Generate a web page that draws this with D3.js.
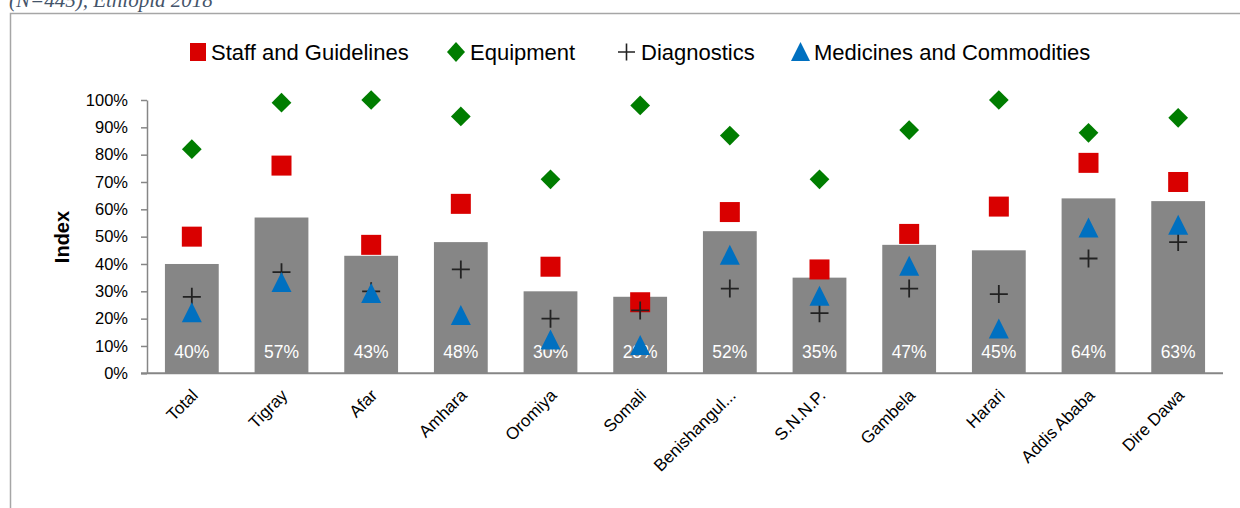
<!DOCTYPE html>
<html><head><meta charset="utf-8">
<script src="https://cdn.jsdelivr.net/npm/d3@7"></script>
<style>
html,body{margin:0;padding:0;background:#fff;}
svg{display:block;font-family:"Liberation Sans",Arial,sans-serif;}
</style></head>
<body><svg id="c" width="1240" height="508"></svg>
<script>
const categories = ["Total","Tigray","Afar","Amhara","Oromiya","Somali","Benishangul...","S.N.N.P.","Gambela","Harari","Addis Ababa","Dire Dawa"];
const overallIndex = [40,57,43,48,30,28,52,35,47,45,64,63];
const staffGuidelines = [50,76,47,62,39,26,59,38,51,61,77,70];
const equipment = [82,99,100,94,71,98,87,71,89,100,88,93.5];
const diagnostics = [28,37,30,38,20,23,31,22,31,29,42,48];
const medicines = [22,33,29,21,12,10,43,28,39,16,53,54];
const yTicks = [0,10,20,30,40,50,60,70,80,90,100];
const seriesNames = ["Staff and Guidelines","Equipment","Diagnostics","Medicines and Commodities"];

const svg = d3.select("#c");
const x0 = 147, x1 = 1223, yTop = 100, yBot = 373.3;
const x = d3.scaleBand().domain(categories).range([x0, x1]).paddingInner(0.4).paddingOuter(0.2);
const y = d3.scaleLinear().domain([0,100]).range([yBot, yTop]);
const cx = c => x(c) + x.bandwidth()/2;

// header text (cut off at the top, as in the source) and frame
svg.append("text").attr("x",9).attr("y",7).attr("font-family","Liberation Serif, Times New Roman, serif")
  .attr("font-style","italic").attr("font-size",21).attr("fill","#44546a").text("(N=445), Ethiopia 2018");
svg.append("path").attr("d","M10.5,508 V13.5 H1240").attr("fill","none").attr("stroke","#a6a6a6").attr("stroke-width",1.5);

// bars
svg.append("g").selectAll("rect").data(categories).join("rect")
  .attr("x", d=>x(d)).attr("width", x.bandwidth())
  .attr("y", (d,i)=>y(overallIndex[i])).attr("height",(d,i)=>yBot-y(overallIndex[i]))
  .attr("fill","#868686");

// y axis
const yAxis = svg.append("g").attr("transform",`translate(${x0},0)`)
  .call(d3.axisLeft(y).tickValues(yTicks).tickFormat(d=>d+"%").tickSize(6).tickSizeOuter(0));
yAxis.select(".domain").attr("stroke","#868686").attr("stroke-width",1.5);
yAxis.selectAll(".tick line").attr("stroke","#868686").attr("stroke-width",1.5);
yAxis.selectAll(".tick text").attr("font-size",16.5).attr("fill","#000").attr("x",-19)
  .attr("font-family","Liberation Sans, Arial, sans-serif");

// x axis
const xAxis = svg.append("g").attr("transform",`translate(0,${yBot})`)
  .call(d3.axisBottom(x).tickSize(0).tickSizeOuter(0));
xAxis.select(".domain").attr("stroke","#868686").attr("stroke-width",2).attr("d",`M${x0-6},0H${x1}`);
xAxis.selectAll(".tick text").attr("font-size",17).attr("fill","#000")
  .attr("font-family","Liberation Sans, Arial, sans-serif")
  .attr("text-anchor","end").attr("dx",0).attr("dy",0)
  .attr("transform","translate(5,21) rotate(-45)");

// bar labels
svg.append("g").selectAll("text").data(categories).join("text")
  .attr("x", d=>cx(d)).attr("y", yBot-15).attr("text-anchor","middle")
  .attr("font-size",17.5).attr("fill","#fff").text((d,i)=>overallIndex[i]+"%");

// markers
const sq = 20;
svg.append("g").selectAll("rect").data(categories).join("rect")
  .attr("x", d=>cx(d)-sq/2).attr("y",(d,i)=>y(staffGuidelines[i])-sq/2)
  .attr("width",sq).attr("height",sq).attr("fill","#d90000");
svg.append("g").selectAll("path").data(categories).join("path")
  .attr("transform",(d,i)=>`translate(${cx(d)},${y(equipment[i])}) rotate(45)`)
  .attr("d", d3.symbol().type(d3.symbolSquare).size(195)).attr("fill","#007d00");
svg.append("g").selectAll("path").data(categories).join("path")
  .attr("transform",(d,i)=>`translate(${cx(d)},${y(diagnostics[i])})`)
  .attr("d","M-9,0H9M0,-9V9").attr("stroke","#222").attr("stroke-width",1.8).attr("fill","none");
const tri = (s)=>`M0,${-s*0.55}L${s/2},${s*0.45}L${-s/2},${s*0.45}Z`;
svg.append("g").selectAll("path").data(categories).join("path")
  .attr("transform",(d,i)=>`translate(${cx(d)},${y(medicines[i])})`)
  .attr("d",tri(20)).attr("fill","#0070c0");

// y title
svg.append("text").attr("transform","translate(69,237) rotate(-90)").attr("text-anchor","middle")
  .attr("font-size",20).attr("font-weight","bold").attr("fill","#000").text("Index");

// legend
const legX = [190, 447, 618, 791];
const legY = 52;
const leg = svg.append("g");
seriesNames.forEach((name,i)=>{
  const g = leg.append("g").attr("transform",`translate(${legX[i]},${legY})`);
  if(i===0) g.append("rect").attr("x",0).attr("y",-9).attr("width",16).attr("height",18).attr("fill","#d90000");
  if(i===1) g.append("path").attr("d","M9,-10L18,0L9,10L0,0Z").attr("fill","#007d00");
  if(i===2) g.append("path").attr("d","M0,0H17M8.5,-8.5V8.5").attr("stroke","#222").attr("stroke-width",1.6);
  if(i===3) g.append("path").attr("d","M9.5,-10L19,9L0,9Z").attr("fill","#0070c0");
  g.append("text").attr("x",[21,23,23,23][i]).attr("y",8).attr("font-size",22).attr("fill","#000").text(name);
});
</script></body></html>
